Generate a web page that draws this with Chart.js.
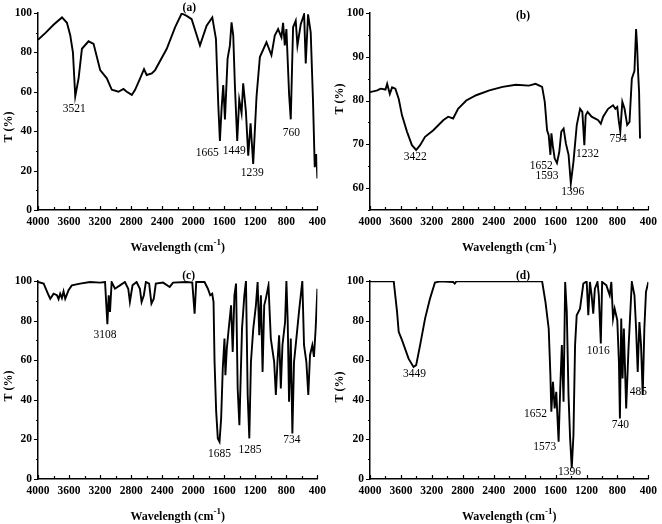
<!DOCTYPE html>
<html>
<head>
<meta charset="utf-8">
<script src="https://cdn.jsdelivr.net/npm/chart.js@4.4.0/dist/chart.umd.min.js"></script>
<style>
  body { margin: 0; background: #fff; }
  #wrap { position: relative; width: 662px; height: 524px; }
  canvas { position: absolute; }
</style>
</head>
<body>
<div id="wrap">
  <canvas id="chartA" width="331" height="262" style="left:0;top:0"></canvas>
  <canvas id="chartB" width="331" height="262" style="left:331px;top:0"></canvas>
  <canvas id="chartC" width="331" height="262" style="left:0;top:262px"></canvas>
  <canvas id="chartD" width="331" height="262" style="left:331px;top:262px"></canvas>
</div>
<script>
// wavenumber ticks shared by all four spectra
const xTicks = [4000, 3600, 3200, 2800, 2400, 2000, 1600, 1200, 800, 400];
const yTicksFull = [0, 20, 40, 60, 80, 100];
const yTicksB = [60, 70, 80, 90, 100];

// (a)
const waveA = [4000,3900,3800,3691,3627,3584,3550,3520,3477,3434,3349,3284,3199,3113,3049,2963,2899,2856,2791,2749,
  2684,2634,2600,2534,2491,2341,2234,2149,2084,2020,1913,1827,1754,1707,1677,1656,1634,1613,1591,1557,
  1527,1506,1484,1463,1433,1407,1377,1356,1321,1291,1261,1227,1184,1141,1056,992,949,906,863,842,
  820,799,764,743,713,679,657,614,571,550,520,486,456,434,413,400];
const transA = [86.3,90,94,97.7,95,88.5,80,57.6,66.8,81.8,85.6,84.3,71,66.8,61,60,61.4,60,58.4,61,
  66.8,71.5,68.5,69.3,71,81.8,92.7,99.7,98.5,96.8,83.5,93.5,97.7,86.8,53.4,35,51.7,63.4,46,76.8,
  83.5,95.2,88.5,63.4,35,56,49.2,64.3,50,27.5,44,23.4,57.6,77.6,85.1,78.5,88.5,91.8,87.6,95,
  83.5,91.8,58.4,46,92.7,96,83.5,94.3,99.3,74.3,99.3,90.2,55,21.7,28.4,16];
const peakTextA = ['(a)', '3521', '1665', '1449', '1239', '760'];
const peakXA = [2050, 3533, 1819, 1471, 1240, 734];
const peakYA = [102.7, 51.4, 28.9, 29.7, 18.9, 38.9];

// (b)
const waveB = [4000,3906,3863,3800,3778,3744,3714,3672,3629,3586,3522,3458,3403,3352,3288,3181,3053,2989,2925,2861,
  2755,2627,2456,2285,2115,1944,1859,1774,1740,1710,1689,1667,1654,1637,1612,1582,1552,1526,1496,1467,
  1432,1403,1369,1326,1283,1254,1228,1211,1186,1134,1092,1049,1015,985,921,857,827,802,784,763,
  737,708,674,644,614,580,559,546,533,520,508];
const transB = [81.9,82.3,82.7,82.5,83.8,81.5,83,82.7,80.4,76.6,72.9,69.8,68.7,69.8,71.7,73.2,75.5,76.3,75.9,78.1,
  80,81.2,82.3,83.1,83.6,83.4,83.8,83.1,79.7,73.2,72.1,67.6,72.5,69.8,66.8,65.7,68.3,72.9,73.6,70.2,
  67.6,61.1,66,74.4,78.1,77.4,69.8,76.6,77.4,76.3,75.9,75.5,74.7,76.3,78.1,78.9,78.1,78.5,75.5,72.9,
  79.7,78.1,74.4,75.1,85,86.8,96.3,92.5,86.5,81.9,71.3];
const peakTextB = ['(b)', '3422', '1652', '1593', '1396', '1232', '754'];
const peakXB = [2021, 3416, 1786, 1710, 1377, 1186, 792];
const peakYB = [99.2, 67.2, 65.1, 62.8, 59.2, 67.7, 71.2];

// (c)
const waveC = [4000,3927,3863,3842,3799,3756,3735,3714,3692,3671,3649,3607,3564,3457,3329,3200,3136,3106,3089,3072,
  3051,3008,2944,2880,2837,2816,2782,2730,2687,2665,2636,2610,2568,2538,2508,2482,2388,2303,2260,2089,
  2012,1982,1961,1854,1811,1781,1755,1738,1725,1704,1683,1661,1640,1619,1597,1585,1567,1542,1512,1491,
  1469,1448,1427,1405,1371,1341,1320,1298,1277,1256,1226,1192,1170,1149,1128,1106,1085,1064,1030,1000,
  957,935,914,893,871,850,816,799,782,765,743,722,701,679,637,594,572,542,517,495,
  465,444,422,400];
const transC = [99.5,98.7,92.8,91,93.6,92.8,90.8,93.6,91.4,94.8,91,95.3,97.8,98.7,99.5,99.2,99.5,78.2,92.8,84.4,
  99.5,96.1,97.8,99.5,96.1,89.4,97.8,99.5,96.1,89.4,92.8,99.5,98.7,88.6,91.1,98.7,99.2,97,99.2,99.5,
  99.2,83.5,99.5,99.5,96.1,92.8,93.6,89.4,59.2,34,20.5,18.8,30.6,55.8,70.9,52.4,65.9,76,87.7,64.2,
  92.8,98.7,45.7,27.2,76,92.8,100,42.4,20.5,59.2,76,87.7,99.5,72.6,92.8,54.1,87.7,91.1,97.8,70.9,
  59.2,42.4,59.2,72.6,45.7,67.6,79.3,100,79.3,39,70.9,23,59.2,67.6,84.4,100,67.6,59.2,42.4,62.5,
  67.6,61.7,76,96.1];
const peakTextC = ['(c)', '3108', '1685', '1285', '734'];
const peakXC = [2059, 3136, 1661, 1268, 729];
const peakYC = [102.5, 72.9, 12.4, 14.5, 19.5];

// (d)
const waveD = [4000,3693,3650,3629,3586,3501,3437,3403,3352,3288,3224,3160,3096,2925,2904,2883,1774,1731,1689,1667,
  1655,1634,1612,1591,1561,1540,1519,1497,1476,1455,1433,1412,1391,1369,1348,1327,1284,1241,1198,1177,
  1156,1134,1113,1092,1058,1041,1015,998,943,900,879,857,836,802,781,768,751,734,717,687,
  657,614,580,559,538,516,495,473,452,431,400];
const transD = [99.8,99.8,84.4,74.3,70.1,60.8,56.6,57.5,67.6,81,91.1,99.2,99.8,99.5,98.7,99.8,99.8,89.4,76,52.4,
  34,49.1,35.6,44,18.8,45.7,67.6,39,99.5,84.4,42.4,20.5,5.4,22.2,67.6,82.7,86,98.7,99.8,82.7,
  99.5,92.8,83.5,96.1,99.5,92.8,68.4,99.5,97.8,92.8,99.5,81,86,80.2,59.2,30.6,81,50.8,76,35.6,
  65.9,99.5,92.8,76,54.1,79.3,67.6,42.4,76,94.5,99.5];
const peakTextD = ['(d)', '3449', '1652', '1573', '1396', '1016', '740', '485'];
const peakXD = [2021, 3424, 1859, 1740, 1420, 1049, 763, 528];
const peakYD = [102.5, 52.9, 32.8, 16.3, 3.7, 64.5, 27.2, 43.7];

const SERIF = '"Liberation Serif", "Times New Roman", serif';

// tick marks, axis titles and peak labels
const spectrumDecor = {
  id: 'spectrumDecor',
  afterDraw(chart, args, o) {
    const { ctx, chartArea, scales: { x, y } } = chart;
    ctx.save();
    ctx.strokeStyle = '#000';
    ctx.lineWidth = 1.2;
    ctx.beginPath();
    // x ticks point up into the plot, every 200
    for (let v = 400; v <= 4000; v += 200) {
      const px = Math.round(x.getPixelForValue(v)) + 0.5;
      ctx.moveTo(px, chartArea.bottom);
      ctx.lineTo(px, chartArea.bottom - (v % 400 === 0 ? 4 : 3));
    }
    // y ticks point out
    const step = o.yTicks[1] - o.yTicks[0];
    for (let v = o.yTicks[0] - step / 2; v <= 100; v += step / 2) {
      if (v < y.min) continue;
      const py = Math.round(y.getPixelForValue(v)) + 0.5;
      const major = o.yTicks.includes(v);
      ctx.moveTo(chartArea.left, py);
      ctx.lineTo(chartArea.left - (major ? 4 : 2), py);
    }
    ctx.stroke();

    ctx.fillStyle = '#000';
    // peak labels
    ctx.textAlign = 'center';
    ctx.textBaseline = 'middle';
    o.texts.forEach((t, i) => {
      ctx.font = (t[0] === '(' ? 'bold ' : '') + '11.5px ' + SERIF;
      ctx.fillText(t, x.getPixelForValue(o.xs[i]), y.getPixelForValue(o.ys[i]));
    });

    // x title with superscript
    const cx = (chartArea.left + chartArea.right) / 2;
    const ty = chartArea.bottom + 38;
    const main = 'Wavelength (cm';
    ctx.font = 'bold 12px ' + SERIF;
    const w1 = ctx.measureText(main).width;
    const w3 = ctx.measureText(')').width;
    ctx.font = 'bold 9px ' + SERIF;
    const w2 = ctx.measureText('-1').width;
    let sx = cx - (w1 + w2 + w3) / 2;
    ctx.textAlign = 'left';
    ctx.font = 'bold 12px ' + SERIF;
    ctx.fillText(main, sx, ty);
    ctx.font = 'bold 9px ' + SERIF;
    ctx.fillText('-1', sx + w1, ty - 5);
    ctx.font = 'bold 12px ' + SERIF;
    ctx.fillText(')', sx + w1 + w2, ty);

    // y title
    ctx.translate(9, o.yTitleAt);
    ctx.rotate(-Math.PI / 2);
    ctx.textAlign = 'center';
    ctx.font = 'bold 12px ' + SERIF;
    ctx.fillText('T (%)', 0, 0);
    ctx.restore();
  }
};

function makeChart(id, wave, trans, p) {
  new Chart(document.getElementById(id), {
    type: 'line',
    data: {
      datasets: [{
        data: wave.map((w, i) => ({ x: w, y: trans[i] })),
        borderColor: '#000',
        borderWidth: 1.9,
        pointRadius: 0,
        tension: 0,
        fill: false
      }]
    },
    options: {
      responsive: false,
      animation: false,
      devicePixelRatio: 1,
      layout: { padding: { top: p.top, right: p.right, left: 0, bottom: 0 } },
      plugins: {
        legend: { display: false },
        tooltip: { enabled: false },
        spectrumDecor: { texts: p.texts, xs: p.xs, ys: p.ys, yTicks: p.yTicks, yTitleAt: p.yTitleAt }
      },
      scales: {
        x: {
          type: 'linear',
          reverse: true,
          min: 400,
          max: 4000,
          afterBuildTicks: s => { s.ticks = xTicks.map(v => ({ value: v })); },
          afterFit: s => { s.height = p.xHeight; },
          grid: { display: false, drawTicks: false },
          border: { display: true, color: '#000', width: 1.5 },
          ticks: {
            color: '#000', padding: 5, maxRotation: 0, autoSkip: false,
            font: { family: SERIF, size: 11.5, weight: 'bold' },
            callback: v => String(v)
          }
        },
        y: {
          min: p.yMin,
          max: 100,
          afterBuildTicks: s => { s.ticks = p.yTicks.map(v => ({ value: v })); },
          afterFit: s => { s.width = p.yWidth; },
          grid: { display: false, drawTicks: false },
          border: { display: true, color: '#000', width: 1.5 },
          ticks: {
            color: '#000', padding: 6,
            font: { family: SERIF, size: 11.5, weight: 'bold' },
            callback: v => String(v)
          }
        }
      }
    },
    plugins: [spectrumDecor]
  });
}

makeChart('chartA', waveA, transA, {
  top: 10, right: 13, xHeight: 52, yWidth: 38, yMin: 0, yTicks: yTicksFull, yTitleAt: 127,
  texts: peakTextA, xs: peakXA, ys: peakYA
});
makeChart('chartB', waveB, transB, {
  top: 10, right: 10, xHeight: 52, yWidth: 39, yMin: 55, yTicks: yTicksB, yTitleAt: 99,
  texts: peakTextB, xs: peakXB, ys: peakYB
});
makeChart('chartC', waveC, transC, {
  top: 19, right: 13, xHeight: 45, yWidth: 38, yMin: 0, yTicks: yTicksFull, yTitleAt: 124,
  texts: peakTextC, xs: peakXC, ys: peakYC
});
makeChart('chartD', waveD, transD, {
  top: 19, right: 10, xHeight: 45, yWidth: 39, yMin: 0, yTicks: yTicksFull, yTitleAt: 125,
  texts: peakTextD, xs: peakXD, ys: peakYD
});
</script>
</body>
</html>
